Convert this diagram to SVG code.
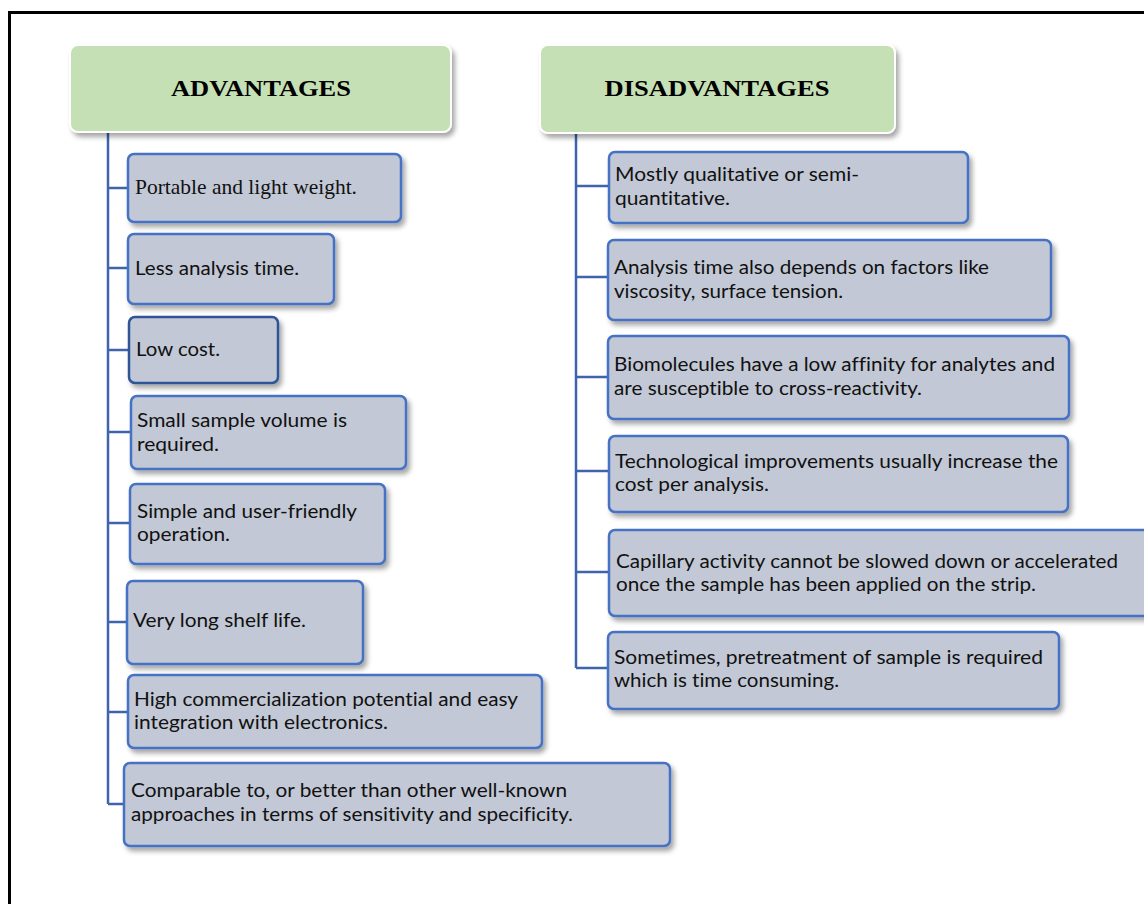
<svg xmlns="http://www.w3.org/2000/svg" width="1144" height="904" viewBox="0 0 1144 904">
<style>
.frame{fill:none;stroke:#000;stroke-width:3}
.hdr{fill:#c5e0b4;stroke:#ffffff;stroke-width:2;filter:url(#sh)}
.box{fill:#c2c8d5;stroke:#4472c4;stroke-width:2.5;filter:url(#sh)}
.box.dk{stroke:#2f5597}
.conn{fill:none;stroke:#3f63ac;stroke-width:2.5}
text{font-variant-ligatures:none}
.ht{font-family:"Liberation Serif","Times New Roman",serif;font-weight:bold;font-size:24px;fill:#000;text-anchor:middle}
.t{font-family:Lato,"Open Sans","Liberation Sans",sans-serif;font-size:19.5px;fill:#111}
.ts{font-family:"Liberation Serif","Times New Roman",serif;font-size:21px;fill:#111}
</style>
<defs>
<filter id="sh" x="-10%" y="-20%" width="125%" height="150%">
<feDropShadow dx="3" dy="4" stdDeviation="2.5" flood-color="#000" flood-opacity="0.35"/>
</filter>
</defs>
<rect x="0" y="0" width="1144" height="904" fill="#fff"/>
<rect class="frame" x="9.5" y="12.5" width="1200" height="1000"/>

<g id="connectors">
<path class="conn" d="M108 132 V804 M108 188 H128 M108 268 H128 M108 350 H129 M108 432 H131 M108 523 H130 M108 622 H127 M108 712 H128 M108 804 H124"/>
<path class="conn" d="M576 133 V668 M576 186 H609 M576 277 H608 M576 377 H608 M576 471 H609 M576 572 H609 M576 668 H608"/>
</g>

<g id="adv-header"><rect class="hdr" x="70" y="45" width="381" height="87" rx="8"/><text class="ht" x="261" y="96" textLength="180" lengthAdjust="spacingAndGlyphs">ADVANTAGES</text></g>
<g id="dis-header"><rect class="hdr" x="540" y="45" width="355" height="88" rx="8"/><text class="ht" x="717" y="96" textLength="225" lengthAdjust="spacingAndGlyphs">DISADVANTAGES</text></g>

<g id="adv1"><rect class="box" x="128" y="154" width="273" height="68" rx="6"/><text class="ts" x="135" y="194" textLength="222" lengthAdjust="spacingAndGlyphs">Portable and light weight.</text></g>
<g id="adv2"><rect class="box" x="128" y="234" width="206" height="70" rx="6"/><text class="t" x="135" y="275" textLength="164" lengthAdjust="spacingAndGlyphs">Less analysis time.</text></g>
<g id="adv3"><rect class="box dk" x="129" y="317" width="149" height="66" rx="6"/><text class="t" x="136" y="356" textLength="84" lengthAdjust="spacingAndGlyphs">Low cost.</text></g>
<g id="adv4"><rect class="box" x="131" y="396" width="275" height="73" rx="6"/><text class="t" x="137" y="427" textLength="210" lengthAdjust="spacingAndGlyphs">Small sample volume is</text><text class="t" x="137" y="451" textLength="82" lengthAdjust="spacingAndGlyphs">required.</text></g>
<g id="adv5"><rect class="box" x="130" y="484" width="255" height="80" rx="6"/><text class="t" x="137" y="518" textLength="220" lengthAdjust="spacingAndGlyphs">Simple and user-friendly</text><text class="t" x="137" y="541" textLength="93" lengthAdjust="spacingAndGlyphs">operation.</text></g>
<g id="adv6"><rect class="box" x="127" y="581" width="236" height="83" rx="6"/><text class="t" x="133" y="627" textLength="173" lengthAdjust="spacingAndGlyphs">Very long shelf life.</text></g>
<g id="adv7"><rect class="box" x="128" y="675" width="414" height="73" rx="6"/><text class="t" x="134" y="706" textLength="384" lengthAdjust="spacingAndGlyphs">High commercialization potential and easy</text><text class="t" x="134" y="729" textLength="254" lengthAdjust="spacingAndGlyphs">integration with electronics.</text></g>
<g id="adv8"><rect class="box" x="124" y="763" width="546" height="83" rx="6"/><text class="t" x="131" y="797" textLength="436" lengthAdjust="spacingAndGlyphs">Comparable to, or better than other well-known</text><text class="t" x="131" y="821" textLength="442" lengthAdjust="spacingAndGlyphs">approaches in terms of sensitivity and specificity.</text></g>

<g id="dis1"><rect class="box" x="609" y="152" width="359" height="71" rx="6"/><text class="t" x="615" y="181" textLength="244" lengthAdjust="spacingAndGlyphs">Mostly qualitative or semi-</text><text class="t" x="615" y="205" textLength="115" lengthAdjust="spacingAndGlyphs">quantitative.</text></g>
<g id="dis2"><rect class="box" x="608" y="240" width="443" height="80" rx="6"/><text class="t" x="614" y="274" textLength="375" lengthAdjust="spacingAndGlyphs">Analysis time also depends on factors like</text><text class="t" x="614" y="298" textLength="229" lengthAdjust="spacingAndGlyphs">viscosity, surface tension.</text></g>
<g id="dis3"><rect class="box" x="608" y="336" width="461" height="83" rx="6"/><text class="t" x="614" y="371" textLength="441" lengthAdjust="spacingAndGlyphs">Biomolecules have a low affinity for analytes and</text><text class="t" x="614" y="395" textLength="308" lengthAdjust="spacingAndGlyphs">are susceptible to cross-reactivity.</text></g>
<g id="dis4"><rect class="box" x="609" y="436" width="459" height="76" rx="6"/><text class="t" x="615" y="468" textLength="443" lengthAdjust="spacingAndGlyphs">Technological improvements usually increase the</text><text class="t" x="615" y="491" textLength="154" lengthAdjust="spacingAndGlyphs">cost per analysis.</text></g>
<g id="dis5"><rect class="box" x="609" y="530" width="560" height="86" rx="6"/><text class="t" x="616" y="568" textLength="502" lengthAdjust="spacingAndGlyphs">Capillary activity cannot be slowed down or accelerated</text><text class="t" x="616" y="591" textLength="420" lengthAdjust="spacingAndGlyphs">once the sample has been applied on the strip.</text></g>
<g id="dis6"><rect class="box" x="608" y="632" width="451" height="77" rx="6"/><text class="t" x="614" y="664" textLength="429" lengthAdjust="spacingAndGlyphs">Sometimes, pretreatment of sample is required</text><text class="t" x="614" y="687" textLength="225" lengthAdjust="spacingAndGlyphs">which is time consuming.</text></g>
</svg>
